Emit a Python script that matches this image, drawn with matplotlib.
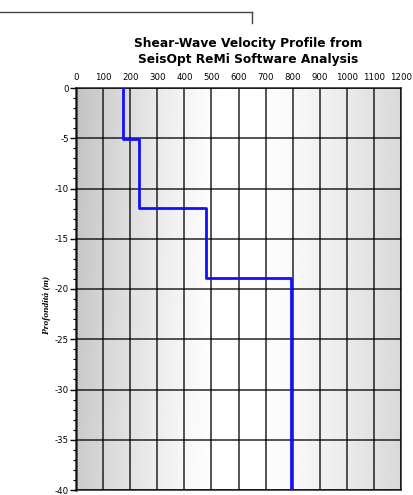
import numpy as np
import matplotlib
matplotlib.use("Agg")
import matplotlib.pyplot as plt
from matplotlib.lines import Line2D

plt.rcParams['axes.unicode_minus'] = False

# Data
velocities = [172, 233, 480, 792]          # m/s
layer_tops = [0, -5.1, -11.9, -18.9]        # m
bottom_depth = -40
x_ticks = [0, 100, 200, 300, 400, 500, 600, 700, 800, 900, 1000, 1100, 1200]
y_ticks = [0, -5, -10, -15, -20, -25, -30, -35, -40]
title = "Shear-Wave Velocity Profile from\nSeisOpt ReMi Software Analysis"
ylabel = "Profondità (m)"

fig = plt.figure(figsize=(4.13, 4.95), dpi=100)
ax = fig.add_axes([76/413, 1-490/495, (401-76)/413, (490-88)/495])

# gradient background
xs = np.linspace(0, 1, 300)
ys = np.linspace(0, 1, 100)[:, None]
g = 1 - 0.2*np.clip((0.45 - xs)/0.45, 0, 1)**1.3 - 0.15*np.clip((xs-0.55)/0.45, 0, 1)**1.3
img = g[None, :] - 0.04*ys*np.clip((0.45 - xs)/0.45, 0, 1)[None, :]
ax.imshow(img, extent=[0, 1200, bottom_depth, 0], aspect='auto', cmap='gray',
          vmin=0, vmax=1, zorder=0, origin='lower')

# step profile
px, py = [], []
bottoms = layer_tops[1:] + [bottom_depth]
for v, t, b in zip(velocities, layer_tops, bottoms):
    px += [v, v]
    py += [t, b]
ax.plot(px, py, color='#1010ff', lw=2.0, zorder=3)

ax.set_xlim(0, 1200)
ax.set_ylim(bottom_depth, 0)
ax.set_xticks(x_ticks)
ax.set_yticks(y_ticks)
ax.set_yticks(np.arange(-40, 1, 1), minor=True)
ax.xaxis.tick_top()
ax.tick_params(axis='x', labelsize=6.2, length=0, pad=4)
ax.tick_params(axis='y', which='major', labelsize=6.2, length=4, width=1, pad=1)
ax.tick_params(axis='y', which='minor', length=2, width=0.8)
ax.grid(True, which='major', color='black', lw=1.1, alpha=0.85, zorder=2)
ax.set_axisbelow(False)
for s in ax.spines.values():
    s.set_color('#333333')
    s.set_linewidth(1.2)
ax.spines['left'].set_linewidth(1.8)

fig.text(248/413, 1-51/495, title, ha='center', va='center', fontsize=8.8,
         fontweight='bold', family='DejaVu Sans', linespacing=1.3)
fig.text(47/413, 1-305/495, ylabel, rotation=90, ha='center', va='center',
         fontsize=6.8, style='italic', fontweight='bold', family='Liberation Serif')

# decorative top bracket
fig.add_artist(Line2D([0, 252/413], [1-12/495, 1-12/495], color='#444444', lw=1,
                      transform=fig.transFigure))
fig.add_artist(Line2D([252/413, 252/413], [1-12/495, 1-23/495], color='#444444', lw=1,
                      transform=fig.transFigure))

fig.savefig("out.png", dpi=100)
